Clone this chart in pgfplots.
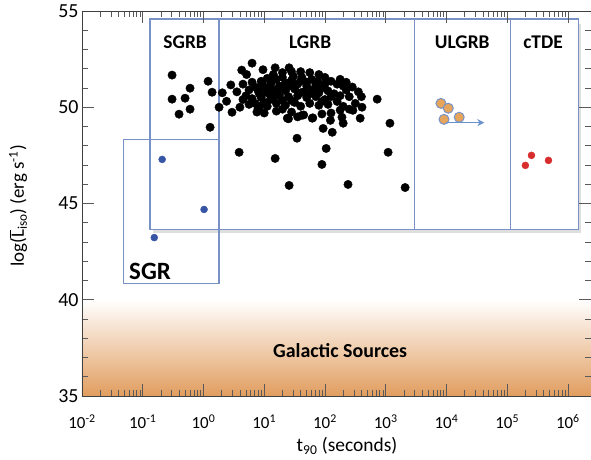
\documentclass[border=0pt]{standalone}
\usepackage{pgfplots}
\pgfplotsset{compat=1.18}
\usepackage{pgfplotstable}
\usepackage{fontspec}
\setmainfont{Carlito}
\usetikzlibrary{arrows.meta}

\definecolor{boxblue}{RGB}{120,146,200}
\definecolor{ptblue}{RGB}{55,85,165}
\definecolor{ptred}{RGB}{215,45,45}
\definecolor{ptorange}{RGB}{230,165,90}
\definecolor{galorange}{RGB}{225,157,95}
\definecolor{arrowblue}{RGB}{105,145,205}

\pgfplotstableread{
lt y
-0.517 51.67
-0.221 50.99
-0.517 50.42
-0.303 50.47
-0.402 49.64
-0.221 49.90
0.076 51.35
0.142 50.78
0.109 48.96
0.257 50.00
}\sgrb

\pgfplotstableread{
lt y
0.31 50.75
0.45 51.16
0.38 50.31
0.47 49.74
0.60 50.00
0.63 51.93
0.71 51.70
0.80 52.29
0.88 49.75
0.93 50.05
0.90 50.85
0.98 51.95
1.18 52.05
1.41 52.05
1.20 51.45
1.30 51.55
1.48 51.60
1.62 51.55
1.78 51.45
1.88 51.35
1.70 51.10
1.55 51.20
1.40 51.25
1.25 51.10
1.10 51.15
1.00 51.00
0.85 51.05
0.75 50.90
0.70 50.60
0.80 50.45
0.95 50.50
1.05 50.75
1.15 50.90
1.35 50.85
1.50 50.95
1.65 50.80
1.80 50.90
1.95 51.00
2.05 50.85
2.15 50.70
2.25 50.60
2.00 50.40
1.85 50.55
1.70 50.50
1.55 50.60
1.40 50.55
1.25 50.60
1.10 50.40
1.00 50.25
0.85 50.20
1.20 50.20
1.35 50.10
1.50 50.25
1.60 50.05
1.75 50.20
1.90 50.10
2.05 50.15
2.20 50.30
2.30 50.05
2.40 50.55
2.35 50.90
2.30 51.10
2.20 51.20
2.10 51.35
2.00 51.55
1.90 51.70
1.75 51.80
1.60 51.85
1.45 51.85
1.30 51.80
1.15 51.70
1.05 51.50
0.95 51.35
0.80 51.30
0.65 51.20
0.55 50.80
0.65 50.40
0.75 50.15
0.90 49.95
1.05 50.05
1.30 49.90
1.45 49.75
1.55 49.50
1.40 49.40
1.65 49.60
1.80 49.45
1.95 49.65
2.10 49.70
2.25 49.85
2.40 49.90
2.50 50.20
2.61 50.00
2.58 49.43
2.30 49.17
2.28 49.48
2.46 49.84
2.12 48.70
1.97 48.90
2.09 49.32
1.79 49.43
1.62 49.58
1.20 49.80
1.00 49.70
2.45 51.05
2.55 50.80
2.60 50.55
2.00 51.20
1.85 51.15
1.60 51.35
1.45 51.40
1.35 51.25
1.12 51.30
0.97 51.20
1.30 50.35
1.15 50.55
1.45 50.35
1.60 50.75
1.75 50.70
1.90 50.75
2.10 50.55
1.95 50.30
1.85 50.95
1.70 51.30
1.50 51.10
1.38 51.05
1.22 50.85
1.08 50.80
0.92 50.70
2.25 51.45
2.35 51.30
2.86 50.42
3.07 49.17
0.587 47.66
1.18 47.34
1.41 45.94
1.54 48.39
1.38 49.43
2.02 47.86
1.95 47.03
3.04 47.66
2.38 45.99
3.32 45.83
}\lgrb

\pgfplotstableread{
lt y
3.91 50.20
4.03 49.95
3.96 49.37
4.21 49.48
}\ulgrb

\pgfplotstableread{
lt y
5.40 47.50
5.30 46.98
5.68 47.24
}\ctde

\pgfplotstableread{
lt y
-0.68 47.29
0.01 44.69
-0.81 43.23
}\sgr

\begin{document}
\begin{tikzpicture}
\begin{axis}[
  scale only axis, width=509bp, height=385bp,
  xmode=log, xmin=1e-2, xmax=2.4e6, ymin=35, ymax=55,
  xtick={1e-2,1e-1,1,1e1,1e2,1e3,1e4,1e5,1e6},
  xticklabels={10\textsuperscript{-2},10\textsuperscript{-1},10\textsuperscript{0},10\textsuperscript{1},10\textsuperscript{2},10\textsuperscript{3},10\textsuperscript{4},10\textsuperscript{5},10\textsuperscript{6}},
  ytick={35,40,45,50,55}, minor y tick num=4,
  tick align=inside,
  major tick length=12bp, minor tick length=6bp,
  every tick/.style={black!65, line width=0.8bp},
  axis line style={black!75, line width=0.8bp},
  xticklabel style={font=\fontsize{17}{20}\selectfont, anchor=north, yshift=-15bp},
  yticklabel style={font=\fontsize{20}{24}\selectfont},
  /pgf/number format/assume math mode=true,
  xlabel={t\textsubscript{90} (seconds)},
  ylabel={log($\overline{\mbox{L}}$\textsubscript{iso}) (erg s\textsuperscript{-1})},
  xlabel style={font=\fontsize{19.5}{23}\selectfont, at={(axis description cs:0.5,0)}, anchor=north, xshift=10.5bp, yshift=-38bp},
  ylabel style={font=\fontsize{19}{23}\selectfont, at={(axis description cs:-0.1257,0.4935)}, anchor=center},
  axis on top,
  clip mode=individual,
]
\fill[top color=white, bottom color=galorange] (rel axis cs:0,0) rectangle (rel axis cs:1,0.25);
\node[font=\fontsize{20}{24}\selectfont\bfseries] at (axis cs:178,37.34) {Galactic Sources};

% shadow (bottom and right edges)
\draw[black!13, line width=2.5bp, shift={(1.8bp,-1.8bp)}] (axis cs:0.14,43.65) -| (axis cs:1.48e6,54.4);
% boxes
\draw[boxblue, line width=1.3bp] (axis cs:0.132,43.65) rectangle (axis cs:1.81,54.58);
\draw[boxblue, line width=1.3bp] (axis cs:1.81,43.65) rectangle (axis cs:2950,54.58);
\draw[boxblue, line width=1.3bp] (axis cs:2950,43.65) rectangle (axis cs:1.12e5,54.58);
\draw[boxblue, line width=1.3bp] (axis cs:1.12e5,43.65) rectangle (axis cs:1.48e6,54.58);
\draw[boxblue, line width=1.3bp] (axis cs:0.048,40.83) rectangle (axis cs:1.81,48.33);

\node[font=\fontsize{19.5}{23}\selectfont\bfseries] at (axis cs:0.5,53.39) {SGRB};
\node[font=\fontsize{19.5}{23}\selectfont\bfseries] at (axis cs:57,53.39) {LGRB};
\node[font=\fontsize{19.5}{23}\selectfont\bfseries] at (axis cs:1.82e4,53.39) {ULGRB};
\node[font=\fontsize{19.5}{23}\selectfont\bfseries] at (axis cs:3.9e5,53.39) {cTDE};
\node[font=\fontsize{25}{30}\selectfont\bfseries] at (axis cs:0.132,41.46) {SGR};

\addplot[only marks, mark=*, mark size=4.2bp, black] table[x expr=10^\thisrow{lt}, y=y] {\sgrb};
\addplot[only marks, mark=*, mark size=4.2bp, black] table[x expr=10^\thisrow{lt}, y=y] {\lgrb};
\addplot[only marks, mark=*, mark size=3.5bp, ptblue] table[x expr=10^\thisrow{lt}, y=y] {\sgr};
\addplot[only marks, mark=*, mark size=3.5bp, ptred] table[x expr=10^\thisrow{lt}, y=y] {\ctde};
\addplot[only marks, mark=*, mark size=5bp, mark options={fill=ptorange, draw=boxblue, line width=1bp}] table[x expr=10^\thisrow{lt}, y=y] {\ulgrb};
\addplot[arrowblue, line width=1.6bp, -{Stealth[length=7bp,width=7bp]}] coordinates {(1.0e4,49.2) (4.2e4,49.2)};
\end{axis}
\path (current axis.south west) ++(-82bp,-64bp) coordinate (bbA);
\path (current axis.north east) ++(0bp,11bp) coordinate (bbB);
\pgfresetboundingbox
\path[use as bounding box] (bbA) rectangle (bbB);
\end{tikzpicture}
\end{document}
